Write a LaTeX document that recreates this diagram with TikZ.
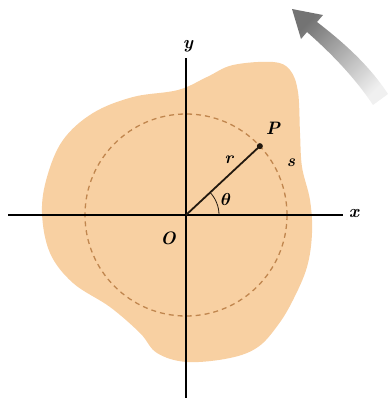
\documentclass[tikz,border=0pt]{standalone}
\usepackage{amsmath}
\usepackage{bm}
\usetikzlibrary{arrows.meta,calc}
\definecolor{blob}{RGB}{248,208,162}
\definecolor{dashc}{RGB}{192,134,78}
\definecolor{ink}{RGB}{35,25,15}
\begin{document}
\begin{tikzpicture}[x=1pt,y=-1pt,
  axis/.style={line width=2pt,black},
  lbl/.style={font=\fontsize{18}{18}\selectfont\itshape\bfseries,inner sep=0pt},
  lblsm/.style={font=\fontsize{17}{17}\selectfont\itshape\bfseries,inner sep=0pt}]
\useasboundingbox (0,0) rectangle (388,402);
% blob
\fill[blob] plot[smooth cycle,tension=0.6] coordinates {
 (207,77) (233,65) (273,62) (290,70) (298,92) (300,133) (302,167) (310,200)
 (312,233) (307,267) (293,300) (278,325) (258,347) (230,358) (187,362)
 (157,353) (140,333) (110,307) (73,283) (50,253) (42,213) (47,177) (63,140)
 (93,113) (133,97) (178,90)};
% dashed circle
\coordinate (O) at (186,215);
\draw[dashc,line width=1.3pt,dash pattern=on 5pt off 4pt] (O) circle[radius=101];
% axes
\coordinate (xl) at (8,215);
\coordinate (xr) at (343,215);
\coordinate (yt) at (186,58);
\coordinate (yb) at (186,398);
\draw[axis] (xl) -- (xr);
\draw[axis] (yt) -- (yb);
\node[lbl] (xlab) at (354,214) {x};
\node[lbl] (ylab) at (188,46) {y};
% radius line and point
\coordinate (P) at ($(O)+(-43:101)$);
\draw[ink,line width=1.8pt] (O) -- (P);
\fill[ink] (P) circle[radius=3];
\draw[ink,line width=0.8pt] ($(O)+(33,0)$) arc[start angle=0,end angle=-43,radius=33];
\node[lbl] (Plab) at (273,128) {P};
\node[lblsm] (rlab) at (229,160) {r};
\node[lblsm] (slab) at (291,163) {s};
\node[lbl] (thlab) at (226,199) {$\bm{\theta}$};
\node[lbl] (Olab) at (168,238) {O};
% gray curved arrow
\shade[top color=black!55,middle color=black!45,bottom color=black!6,shading angle=45]
  (373,105) .. controls (355,78) and (332,54) .. (307,32)
  -- (301,39) -- (292,9) -- (323,15) -- (317,22)
  .. controls (343,42) and (369,65) .. (388,94) -- cycle;
\end{tikzpicture}
\end{document}
